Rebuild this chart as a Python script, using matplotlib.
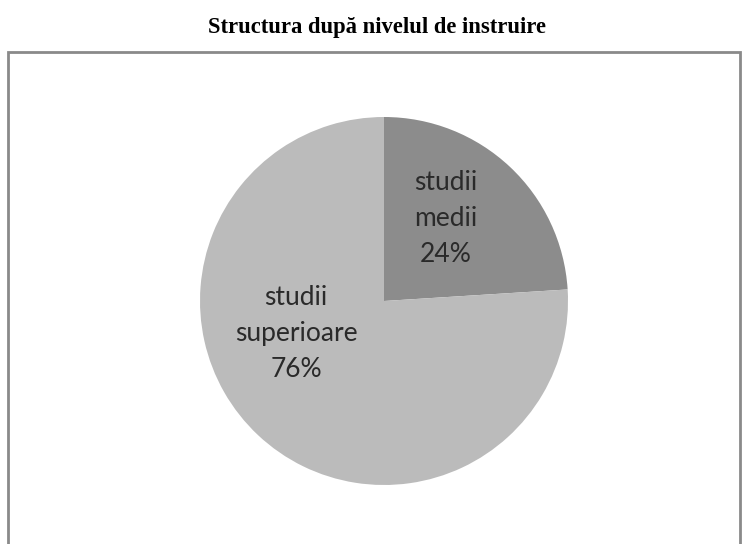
import matplotlib
matplotlib.use("Agg")
import matplotlib.pyplot as plt
from matplotlib.patches import Rectangle

categories = ["studii medii", "studii superioare"]
values = [24, 76]
label_texts = ["studii\nmedii\n24%", "studii\nsuperioare\n76%"]
colors = ["#8c8c8c", "#bbbbbb"]
title = "Structura după nivelul de instruire"

W, H = 748, 544
fig = plt.figure(figsize=(W / 100, H / 100), dpi=100)
fig.patch.set_facecolor("white")

# outer chart box (bottom runs past the image)
fig.patches.append(Rectangle((8 / W, -0.05), (740 - 8) / W, 1.05 - 52 / H,
                             transform=fig.transFigure, fill=False,
                             edgecolor="#8a8a8a", linewidth=2.0))

fig.text(377 / W, 1 - 27 / H, title, ha="center", va="center",
         fontsize=16.3, fontweight="bold", family="Liberation Serif")

cx, cy, r = 384, 301, 184
ax = fig.add_axes([(cx - r) / W, (H - cy - r) / H, 2 * r / W, 2 * r / H])
wedges, texts = ax.pie(values, colors=colors, startangle=90, counterclock=False,
                       labels=label_texts, labeldistance=0.5,
                       wedgeprops=dict(linewidth=0),
                       textprops=dict(fontsize=19, family="Lato", color="#2a2a2a",
                                      ha="center", va="center", linespacing=1.55))
label_pos = [(0.337, 0.45), (-0.478, -0.174)]
for t, p in zip(texts, label_pos):
    t.set_position(p)
    t.set_ha("center")
    t.set_va("center")
ax.set_xlim(-1, 1)
ax.set_ylim(-1, 1)
ax.set_aspect("equal")
ax.axis("off")

fig.savefig("out.png", dpi=100, facecolor="white")
